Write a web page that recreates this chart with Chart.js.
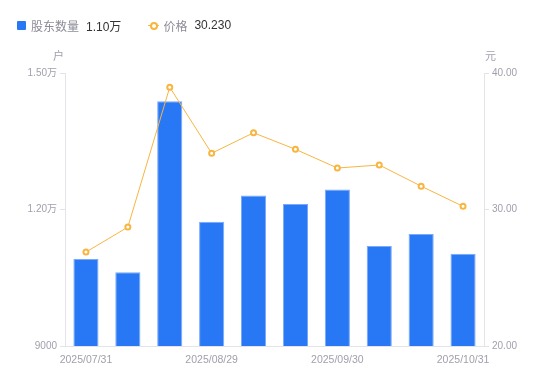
<!DOCTYPE html>
<html>
<head>
<meta charset="utf-8">
<script src="https://cdn.jsdelivr.net/npm/chart.js@4"></script>
<style>
  html, body { margin: 0; padding: 0; background: #fff; }
  #wrap { position: relative; width: 550px; height: 381px; }
  #legend {
    position: absolute; left: 17px; top: 15px; height: 20px;
    font: 12px "Liberation Sans", "Noto Sans CJK SC", sans-serif;
    display: flex; align-items: center; white-space: nowrap;
  }
  .box { width: 9px; height: 9px; background: #2878f5; border-radius: 1px; margin-right: 5px; }
  .lname { color: #8c8c99; margin-right: 7px; }
  .lval { color: #333; }
  .icon { position: relative; width: 11px; height: 9px; margin-right: 4px; }
  .icon::before { content: ""; position: absolute; left: 0; right: 0; top: 4px; height: 1px; background: #f8b540; }
  .icon::after { content: ""; position: absolute; left: 2px; top: 1px; width: 4px; height: 4px;
    border: 2px solid #f8b540; border-radius: 50%; background: #fff; }
</style>
</head>
<body>
<div id="wrap">
  <div id="legend">
    <span class="box"></span><span class="lname">股东数量</span><span class="lval">1.10万</span>
    <span style="width:27px"></span>
    <span class="icon"></span><span class="lname">价格</span><span class="lval">30.230</span>
  </div>
  <canvas id="chart" width="550" height="381"></canvas>
</div>
<script>
const dates = ["2025/07/31", "2025/08/10", "2025/08/20", "2025/08/29", "2025/09/10",
               "2025/09/19", "2025/09/30", "2025/10/10", "2025/10/20", "2025/10/31"];
const holders = [10910, 10620, 14380, 11730, 12310, 12120, 12440, 11200, 11460, 11030];
const prices = [26.88, 28.71, 38.96, 34.12, 35.62, 34.41, 33.04, 33.26, 31.71, 30.23];
const leftTicks = [9000, 12000, 15000];
const rightTicks = [20, 30, 40];

const fontFamily = '"Liberation Sans", "Noto Sans CJK SC", sans-serif';
const grey = "#a0a0ad";
const lineGrey = "#e3e3e8";

const unitTitles = {
    id: "unitTitles",
    afterDraw(chart) {
        const c = chart.ctx;
        const y = chart.scales.y, y1 = chart.scales.y1;
        c.save();
        c.font = "11px " + fontFamily;
        c.fillStyle = grey;
        c.textBaseline = "middle";
        c.textAlign = "right";
        c.fillText("户", y.right - 1, 57);
        c.textAlign = "left";
        c.fillText("元", y1.left + 1, 57);
        c.restore();
    }
};

function wan(v) {
    if (v >= 10000) return (v / 10000).toFixed(2) + "万";
    return String(v);
}

new Chart(document.getElementById("chart"), {
    data: {
        labels: dates,
        datasets: [{
            type: "line",
            label: "价格",
            data: prices,
            yAxisID: "y1",
            borderColor: "#f8b540",
            borderWidth: 1,
            pointRadius: 2.5,
            pointBorderWidth: 2,
            pointBackgroundColor: "#fff",
            pointBorderColor: "#f8b540",
            tension: 0,
            order: 1
        }, {
            type: "bar",
            label: "股东数量",
            data: holders,
            yAxisID: "y",
            backgroundColor: "#2878f5",
            borderColor: "#79a9f7",
            borderWidth: 1,
            barPercentage: 0.6,
            categoryPercentage: 1,
            order: 2
        }]
    },
    options: {
        responsive: false,
        animation: false,
        layout: { padding: { top: 73, left: 0, right: 0, bottom: 0 } },
        plugins: { legend: { display: false }, tooltip: { enabled: false } },
        scales: {
            x: {
                grid: { display: false },
                border: { color: lineGrey },
                ticks: {
                    autoSkip: false,
                    maxRotation: 0,
                    color: grey,
                    font: { family: fontFamily, size: 10.5 },
                    padding: 0,
                    callback: (v, i) => (i % 3 === 0 ? dates[i] : "")
                },
                afterFit: (s) => { s.height = 35; }
            },
            y: {
                position: "left",
                min: 9000,
                max: 15000,
                afterBuildTicks: (s) => { s.ticks = leftTicks.map(v => ({ value: v })); },
                grid: { drawOnChartArea: false, tickLength: 5, color: lineGrey },
                border: { color: lineGrey },
                ticks: {
                    color: grey,
                    padding: 3,
                    font: { family: fontFamily, size: 10 },
                    callback: (v) => wan(v)
                },
                afterFit: (s) => { s.width = 65; }
            },
            y1: {
                position: "right",
                min: 20,
                max: 40,
                afterBuildTicks: (s) => { s.ticks = rightTicks.map(v => ({ value: v })); },
                grid: { drawOnChartArea: false, tickLength: 5, color: lineGrey },
                border: { color: lineGrey },
                ticks: {
                    color: grey,
                    padding: 3,
                    font: { family: fontFamily, size: 10 },
                    callback: (v) => v.toFixed(2)
                },
                afterFit: (s) => { s.width = 66; }
            }
        }
    },
    plugins: [unitTitles]
});
</script>
</body>
</html>
